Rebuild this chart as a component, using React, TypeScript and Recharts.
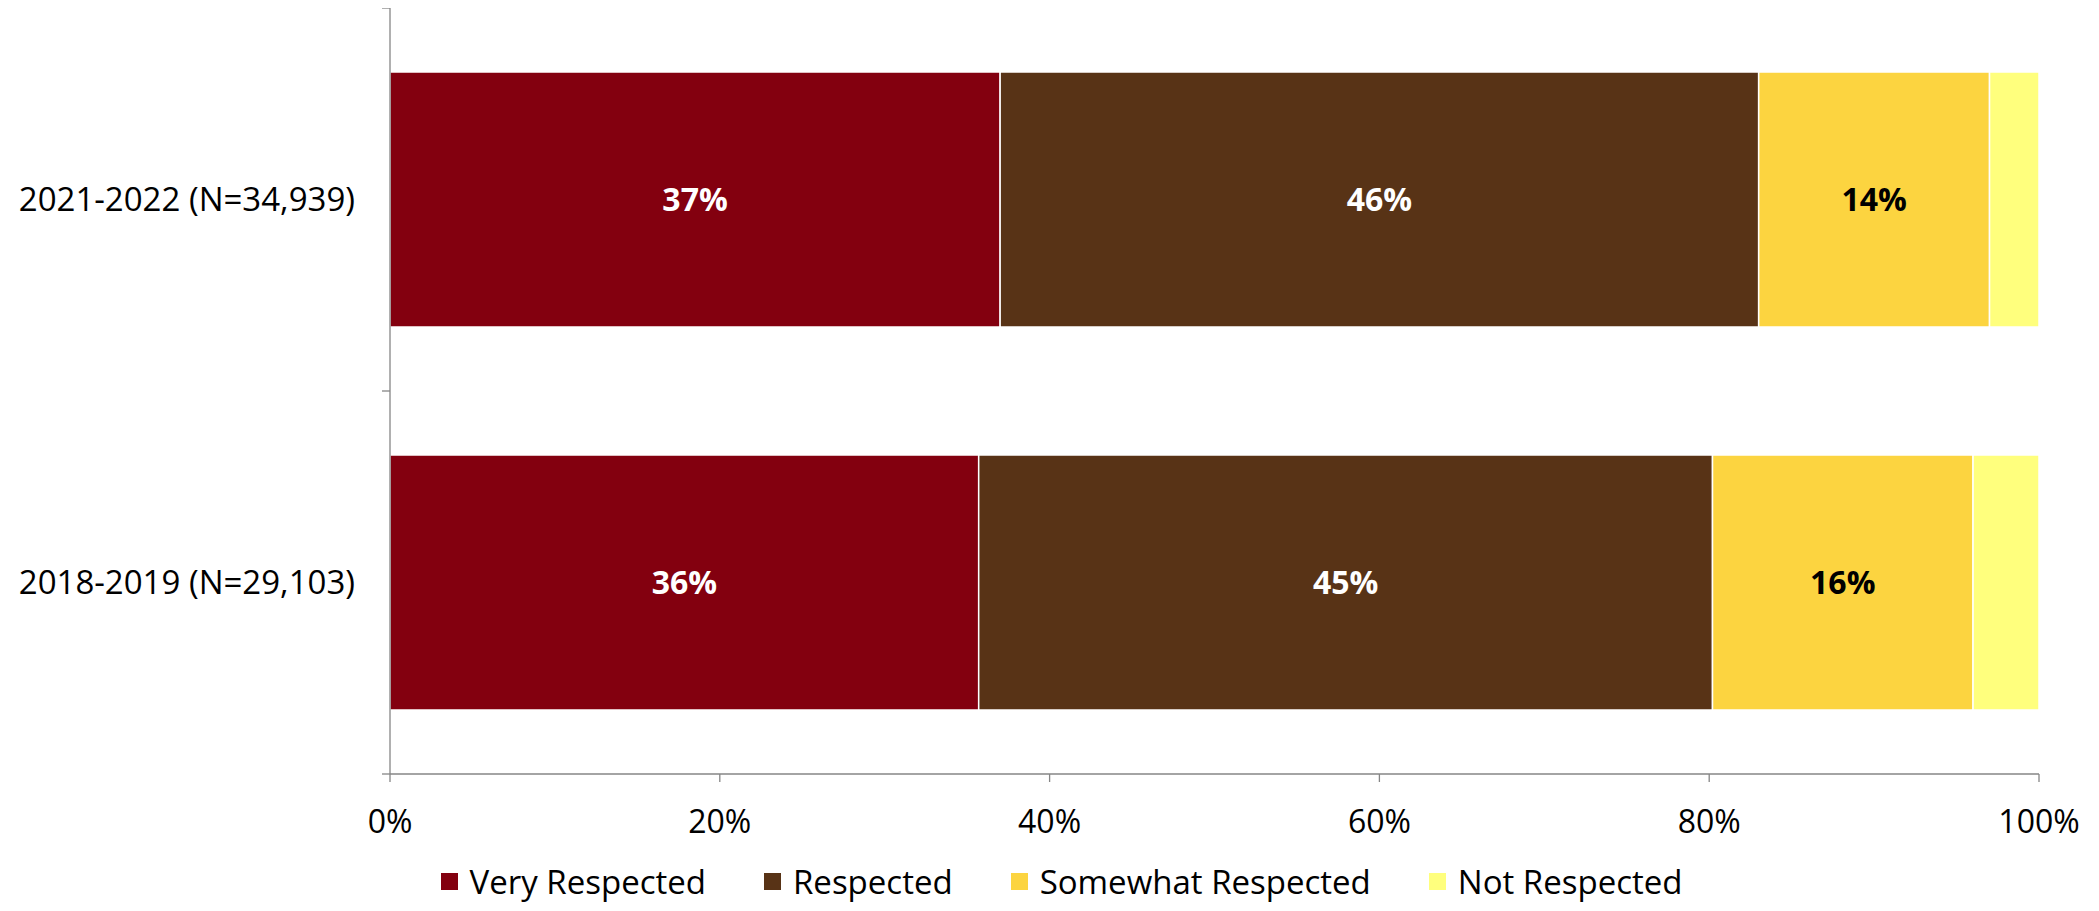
import { BarChart, Bar, XAxis, YAxis, Legend, LabelList } from 'recharts';

const categories = ['2021-2022 (N=34,939)', '2018-2019 (N=29,103)'];
const veryRespected = [37, 35.7];
const respected = [46, 44.5];
const somewhatRespected = [14, 15.8];
const notRespected = [3, 4.0];
const xTicks = [0, 20, 40, 60, 80, 100];

const seriesDefs = [
  { key: 'very', name: 'Very Respected', color: '#83000F', labelColor: '#fff', values: veryRespected },
  { key: 'resp', name: 'Respected', color: '#583316', labelColor: '#fff', values: respected },
  { key: 'some', name: 'Somewhat Respected', color: '#FCD440', labelColor: '#000', values: somewhatRespected },
  { key: 'not', name: 'Not Respected', color: '#FFFF7D', labelColor: null, values: notRespected },
];

const data = categories.map((name, i) => {
  const row: Record<string, string | number> = { name };
  seriesDefs.forEach(s => { row[s.key] = s.values[i]; });
  return row;
});

const W = 2083, H = 895;
const M = { top: 0, right: 52, left: 0, bottom: 0 };
const Y_W = 382;
const X_H = 89;
const LEGEND_H = 40;
const PLOT_H = H - M.top - M.bottom - X_H - LEGEND_H;
const FONT = '"Open Sans", sans-serif';
const AXIS = '#868686';

function YTick(props: any) {
  const { x, y, payload, index } = props;
  const half = PLOT_H / categories.length / 2;
  return (
    <g>
      <line x1={x - 8} x2={x} y1={y - half} y2={y - half} stroke={AXIS} strokeWidth={1.3} />
      {index === categories.length - 1 && <line x1={x - 8} x2={x} y1={y + half} y2={y + half} stroke={AXIS} strokeWidth={1.3} />}
      <text x={x - 35} y={y} dy="0.35em" textAnchor="end" fontFamily={FONT} fontSize={33} fill="#000">{payload.value}</text>
    </g>
  );
}

function LegendContent() {
  return (
    <div style={{ display: 'flex', justifyContent: 'center', alignItems: 'center', height: 40, paddingLeft: 82, fontFamily: FONT, fontSize: 33, lineHeight: 1, color: '#000' }}>
      {seriesDefs.map(s => (
        <div key={s.key} style={{ display: 'flex', alignItems: 'center', marginRight: 58 }}>
          <span style={{ display: 'inline-block', width: 17, height: 17, background: s.color, marginRight: 12 }} />
          <span style={{ whiteSpace: 'nowrap', lineHeight: 1 }}>{s.name}</span>
        </div>
      ))}
    </div>
  );
}

export default function App() {
  return (
    <div style={{ width: W, height: H }}>
      <BarChart width={W} height={H} data={data} layout="vertical" margin={M} barSize={255}>
        <XAxis type="number" domain={[0, 100]} ticks={xTicks} tickFormatter={(v: number) => `${v}%`}
          height={X_H} tickSize={8} tickMargin={28} stroke={AXIS} strokeWidth={1.3}
          tick={{ fill: '#000', fontFamily: FONT, fontSize: 32 }} allowDataOverflow />
        <YAxis type="category" dataKey="name" width={Y_W} tickLine={false} tickSize={0} tickMargin={0}
          stroke={AXIS} strokeWidth={1.3} tick={<YTick />} interval={0} />
        <Legend verticalAlign="bottom" height={LEGEND_H} content={<LegendContent />}
          wrapperStyle={{ top: 853, left: 0, width: W }} />
        {seriesDefs.map(s => (
          <Bar key={s.key} dataKey={s.key} name={s.name} stackId="a" fill={s.color} stroke="#fff" strokeWidth={1.5} isAnimationActive={false}>
            {s.labelColor && (
              <LabelList dataKey={s.key} position="center" formatter={(v: any) => `${Math.round(Number(v))}%`}
                fill={s.labelColor} fontFamily={FONT} fontSize={32} fontWeight="bold" />
            )}
          </Bar>
        ))}
      </BarChart>
    </div>
  );
}
